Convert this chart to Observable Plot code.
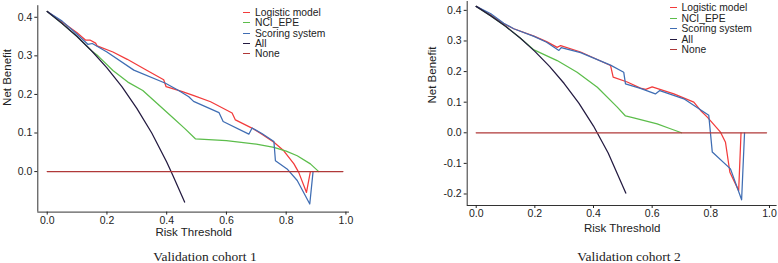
<!DOCTYPE html>
<html><head><meta charset="utf-8">
<script src="https://cdn.jsdelivr.net/npm/d3@7"></script>
<script src="https://cdn.jsdelivr.net/npm/@observablehq/plot@0.6"></script>
<style>
body{margin:0;background:#fff;}
#wrap{position:relative;width:778px;height:263px;overflow:hidden;background:#fff;font-family:"Liberation Sans",Arial,sans-serif;}
.panel{position:absolute;top:0;}
.cap{position:absolute;font-family:"Liberation Serif","Times New Roman",serif;font-size:13.5px;color:#222;transform:translate(-50%,-50%);white-space:nowrap;}
.lg{position:absolute;font-size:10.3px;color:#222;white-space:nowrap;line-height:11px;}
.sw{position:absolute;width:7px;height:1px;}
</style>
</head><body>
<div id="wrap"></div>
<script>
// ---- data ----
const seriesNames = ["Logistic model", "NCI_EPE", "Scoring system", "All", "None"];
const seriesColors = ["#f23b3b", "#5cbd4b", "#3f6db3", "#231a40", "#b03838"];
const xTicks = [0, 0.2, 0.4, 0.6, 0.8, 1.0];
const yTicks1 = [0, 0.1, 0.2, 0.3, 0.4];
const yTicks2 = [-0.2, -0.1, 0, 0.1, 0.2, 0.3, 0.4];
const captions = ["Validation cohort 1", "Validation cohort 2"];

// Validation cohort 1  [threshold, net benefit]
const c1Logistic = [[0,0.415],[0.05,0.388],[0.1,0.36],[0.128,0.341],[0.143,0.341],[0.162,0.333],[0.167,0.326],[0.22,0.31],[0.268,0.291],[0.33,0.264],[0.39,0.238],[0.398,0.22],[0.45,0.208],[0.491,0.197],[0.547,0.181],[0.619,0.152],[0.63,0.134],[0.692,0.110],[0.72,0.096],[0.759,0.076],[0.792,0.054],[0.826,0.02],[0.842,-0.002],[0.868,-0.054],[0.881,0.0]];
const c1NCI = [[0,0.415],[0.05,0.384],[0.1,0.35],[0.15,0.312],[0.17,0.30],[0.22,0.262],[0.27,0.232],[0.32,0.21],[0.37,0.175],[0.42,0.14],[0.46,0.112],[0.496,0.085],[0.6,0.08],[0.7,0.071],[0.759,0.063],[0.8,0.053],[0.837,0.041],[0.881,0.02],[0.909,0.0]];
const c1Scoring = [[0,0.415],[0.05,0.39],[0.1,0.356],[0.136,0.33],[0.151,0.332],[0.2,0.31],[0.29,0.263],[0.396,0.229],[0.44,0.21],[0.474,0.194],[0.49,0.182],[0.575,0.153],[0.589,0.130],[0.675,0.097],[0.686,0.113],[0.72,0.098],[0.759,0.078],[0.764,0.028],[0.803,0.007],[0.837,-0.023],[0.879,-0.084],[0.89,0.0]];
const c1All = [[0,0.415],[0.05,0.384],[0.1,0.35],[0.15,0.312],[0.2,0.269],[0.25,0.22],[0.3,0.164],[0.35,0.1],[0.4,0.025],[0.42,-0.009],[0.46,-0.079]];
const c1None = [[0,0],[0.99,0]];

// Validation cohort 2
const c2Logistic = [[0,0.413],[0.05,0.385],[0.094,0.356],[0.128,0.34],[0.197,0.316],[0.24,0.298],[0.276,0.279],[0.288,0.285],[0.356,0.264],[0.458,0.22],[0.467,0.182],[0.515,0.166],[0.56,0.146],[0.578,0.142],[0.6,0.15],[0.674,0.127],[0.742,0.1],[0.765,0.073],[0.788,0.051],[0.833,0.002],[0.85,-0.031],[0.865,-0.129],[0.895,-0.189],[0.903,0.0]];
const c2NCI = [[0,0.413],[0.05,0.382],[0.1,0.348],[0.15,0.31],[0.197,0.271],[0.276,0.236],[0.344,0.198],[0.413,0.149],[0.481,0.084],[0.509,0.055],[0.537,0.049],[0.617,0.029],[0.66,0.014],[0.7,0.0]];
const c2Scoring = [[0,0.413],[0.05,0.389],[0.094,0.358],[0.128,0.34],[0.197,0.315],[0.24,0.296],[0.282,0.269],[0.29,0.278],[0.356,0.262],[0.458,0.221],[0.503,0.198],[0.509,0.16],[0.56,0.145],[0.611,0.127],[0.626,0.138],[0.708,0.111],[0.793,0.057],[0.805,-0.063],[0.867,-0.118],[0.905,-0.219],[0.915,0.0]];
const c2All = [[0,0.413],[0.05,0.382],[0.1,0.348],[0.15,0.31],[0.2,0.266],[0.25,0.217],[0.3,0.161],[0.35,0.097],[0.4,0.022],[0.45,-0.066],[0.51,-0.197]];
const c2None = [[0,0],[0.99,0]];

// ---- layout ----
const panels = [
  {left: 0, width: 390, mL: 37.3, mR: 41, mT: 5.2, mB: 28.4, xDomain: [-0.0315, 1.012], yDomain: [-0.105, 0.43],
   yTicks: yTicks1, series: [c1Logistic, c1NCI, c1Scoring, c1All, c1None], xtDy: 20.4, ytDx: -30.3, ytDy: -3,
   legX: 243, legY: 12, legStep: 10.25, capX: 205},
  {left: 390, width: 388, mL: 76.7, mR: 1.4, mT: 1.0, mB: 35, xDomain: [-0.0307, 1.026], yDomain: [-0.2376, 0.429],
   yTicks: yTicks2, series: [c2Logistic, c2NCI, c2Scoring, c2All, c2None], xtDy: 23, ytDx: -34.7, ytDy: 0,
   legX: 669.5, legY: 7, legStep: 10.5, capX: 629}
];

const wrap = document.getElementById("wrap");
const fmt = d => d.toFixed(1);

panels.forEach((p, pi) => {
  const data = [];
  p.series.forEach((pts, i) => pts.forEach(([t, v]) => data.push({series: seriesNames[i], t, v})));
  const chart = Plot.plot({
    width: p.width, height: 240,
    marginLeft: p.mL, marginRight: p.mR, marginTop: p.mT, marginBottom: p.mB,
    x: {domain: p.xDomain},
    y: {domain: p.yDomain},
    color: {domain: seriesNames, range: seriesColors},
    style: {fontFamily: '"Liberation Sans", Arial, sans-serif', fontSize: "10.5px", color: "#222", background: "white", overflow: "visible"},
    marks: [
      Plot.ruleX([p.xDomain[0]], {stroke: "#333", strokeWidth: 1}),
      Plot.ruleY([p.yDomain[0]], {stroke: "#333", strokeWidth: 1}),
      Plot.axisX({ticks: xTicks, tickFormat: fmt, tickSize: 3, tickPadding: 1.5, label: null, fontSize: 10.5}),
      Plot.axisY({ticks: p.yTicks, tickFormat: fmt, tickSize: 3, tickPadding: 2.5, label: null, fontSize: 10.5}),
      Plot.line(data, {x: "t", y: "v", z: "series", stroke: "series", strokeWidth: 1.25}),
      Plot.text(["Risk Threshold"], {text: d => d, frameAnchor: "bottom", dy: p.xtDy, lineAnchor: "middle", fontSize: 11.5, fill: "#222"}),
      Plot.text(["Net Benefit"], {text: d => d, frameAnchor: "left", rotate: -90, dx: p.ytDx, dy: p.ytDy, lineAnchor: "middle", fontSize: 11.5, fill: "#222"})
    ]
  });
  chart.classList.add("panel");
  chart.style.left = p.left + "px";
  wrap.appendChild(chart);

  // legend
  seriesNames.forEach((name, i) => {
    const y = Math.round(p.legY + i * p.legStep);
    const sw = document.createElement("div");
    sw.className = "sw";
    sw.style.left = p.legX + "px";
    sw.style.top = y + "px";
    sw.style.background = seriesColors[i];
    wrap.appendChild(sw);
    const lb = document.createElement("div");
    lb.className = "lg";
    lb.style.left = (p.legX + 12) + "px";
    lb.style.top = (y - 5.5) + "px";
    lb.textContent = name;
    wrap.appendChild(lb);
  });

  const cap = document.createElement("div");
  cap.className = "cap";
  cap.style.left = p.capX + "px";
  cap.style.top = "257px";
  cap.textContent = captions[pi];
  wrap.appendChild(cap);
});
</script>
</body></html>
